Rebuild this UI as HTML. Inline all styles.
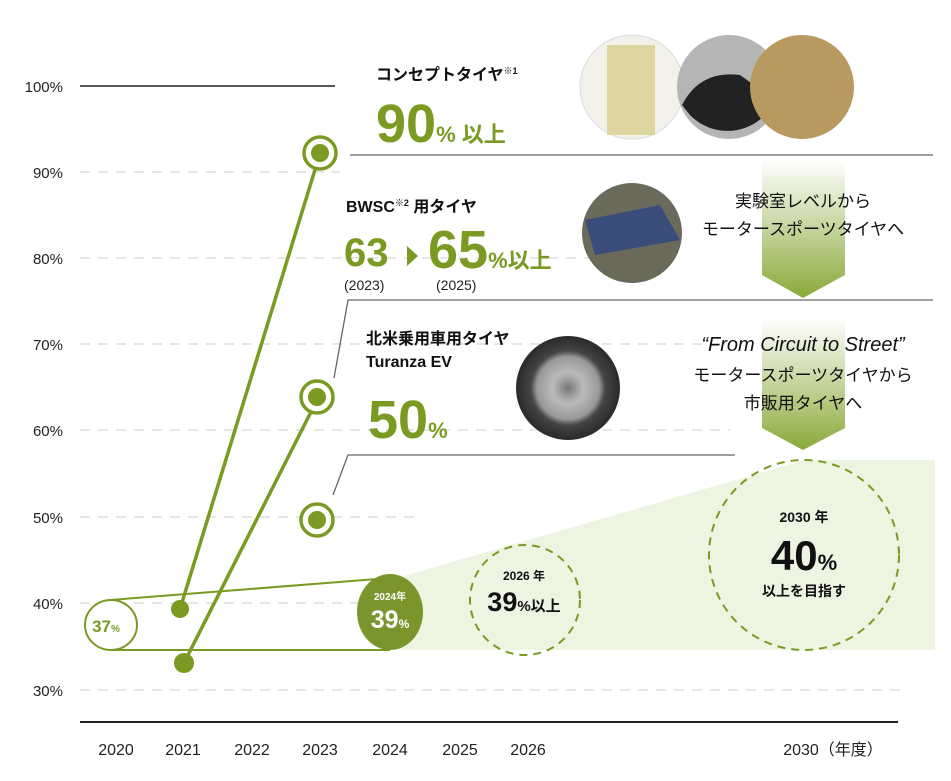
<!DOCTYPE html>
<html><head><meta charset="utf-8"><style>
body{margin:0;background:#fff;}
svg text{font-family:"Liberation Sans","Noto Sans CJK JP",sans-serif;}
</style></head><body>
<svg width="951" height="776" viewBox="0 0 951 776" xmlns="http://www.w3.org/2000/svg">
<defs>
<linearGradient id="ar" x1="0" y1="0" x2="0" y2="1"><stop offset="0" stop-color="#fff"/><stop offset="1" stop-color="#8aaa3a"/></linearGradient>
<radialGradient id="tire" cx="0.5" cy="0.5" r="0.5"><stop offset="0" stop-color="#777"/><stop offset="0.3" stop-color="#bbb"/><stop offset="0.6" stop-color="#999"/><stop offset="0.72" stop-color="#444"/><stop offset="1" stop-color="#2a2a2a"/></radialGradient>
</defs>
<g stroke="#ccc" stroke-dasharray="10,8" stroke-width="1">
<line x1="80" y1="172" x2="340" y2="172"/>
<line x1="80" y1="258" x2="590" y2="258"/>
<line x1="80" y1="344" x2="730" y2="344"/>
<line x1="80" y1="430" x2="730" y2="430"/>
<line x1="80" y1="517" x2="420" y2="517"/>
<line x1="80" y1="603" x2="900" y2="603"/>
<line x1="80" y1="690" x2="900" y2="690"/>
</g>
<line x1="80" y1="86" x2="335" y2="86" stroke="#222" stroke-width="1.5"/>
<line x1="80" y1="722" x2="898" y2="722" stroke="#222" stroke-width="2"/>
<g font-size="15" fill="#222" text-anchor="end">
<text x="63" y="92">100%</text><text x="63" y="178">90%</text><text x="63" y="264">80%</text><text x="63" y="350">70%</text><text x="63" y="436">60%</text><text x="63" y="523">50%</text><text x="63" y="609">40%</text><text x="63" y="696">30%</text>
</g>
<g font-size="16" fill="#222" text-anchor="middle">
<text x="116" y="755">2020</text><text x="183" y="755">2021</text><text x="252" y="755">2022</text><text x="320" y="755">2023</text><text x="390" y="755">2024</text><text x="460" y="755">2025</text><text x="528" y="755">2026</text><text x="833" y="755">2030（年度）</text>
</g>
<polygon points="390,580 805,460 935,460 935,650 390,650" fill="#eef4e2"/>
<g stroke="#666" stroke-width="1.3" fill="none">
<line x1="350" y1="155" x2="933" y2="155"/>
<polyline points="334,378 348,300 933,300"/>
<polyline points="333,495 348,455 735,455"/>
</g>
<polygon points="762,160 845,160 845,275 803,298 762,275" fill="url(#ar)"/>
<polygon points="762,318 845,318 845,428 803,450 762,428" fill="url(#ar)"/>
<g stroke="#7a9a22" stroke-width="2" fill="none">
<line x1="110" y1="600" x2="390" y2="578"/>
<line x1="110" y1="650" x2="390" y2="650"/>
</g>
<ellipse cx="111" cy="625" rx="26" ry="25" fill="#fff" stroke="#7a9a22" stroke-width="2"/>
<text x="106" y="632" font-size="17" font-weight="bold" fill="#7a9a22" text-anchor="middle">37<tspan font-size="10">%</tspan></text>
<ellipse cx="390" cy="612" rx="33" ry="38" fill="#7a952c"/>
<text x="390" y="600" font-size="10" font-weight="bold" fill="#fff" text-anchor="middle">2024年</text>
<text x="390" y="628" font-size="25" font-weight="bold" fill="#fff" text-anchor="middle">39<tspan font-size="12">%</tspan></text>
<circle cx="525" cy="600" r="55" fill="none" stroke="#7a9a22" stroke-width="2" stroke-dasharray="8,6"/>
<text x="524" y="580" font-size="12" font-weight="bold" fill="#111" text-anchor="middle">2026 年</text>
<text x="524" y="611" font-size="27" font-weight="bold" fill="#111" text-anchor="middle">39<tspan font-size="15">%以上</tspan></text>
<circle cx="804" cy="555" r="95" fill="none" stroke="#7a9a22" stroke-width="2" stroke-dasharray="8,6"/>
<text x="804" y="522" font-size="14" font-weight="bold" fill="#111" text-anchor="middle">2030 年</text>
<text x="804" y="570" font-size="42" font-weight="bold" fill="#111" text-anchor="middle">40<tspan font-size="22">%</tspan></text>
<text x="804" y="596" font-size="14" font-weight="bold" fill="#111" text-anchor="middle">以上を目指す</text>
<g stroke="#7a9a22" stroke-width="3.5">
<line x1="180" y1="609" x2="318" y2="160"/>
<line x1="184" y1="663" x2="316" y2="402"/>
</g>
<circle cx="180" cy="609" r="9" fill="#7a9a22"/>
<circle cx="184" cy="663" r="10" fill="#7a9a22"/>
<g fill="#fff" stroke="#7a9a22" stroke-width="3.5">
<circle cx="320" cy="153" r="16"/><circle cx="317" cy="397" r="16"/><circle cx="317" cy="520" r="16"/>
</g>
<g fill="#7a9a22"><circle cx="320" cy="153" r="9"/><circle cx="317" cy="397" r="9"/><circle cx="317" cy="520" r="9"/></g>
<text x="376" y="80" font-size="16" font-weight="bold" fill="#111">コンセプトタイヤ<tspan font-size="9" dy="-6">※1</tspan></text>
<text x="376" y="142" font-size="54" font-weight="bold" fill="#7a9a22">90<tspan font-size="22">% 以上</tspan></text>
<text x="346" y="212" font-size="16" font-weight="bold" fill="#111">BWSC<tspan font-size="9" dy="-6">※2</tspan><tspan dy="6"> 用タイヤ</tspan></text>
<text x="344" y="266" font-size="40" font-weight="bold" fill="#7a9a22">63</text>
<polygon points="407,246 418,256 407,266" fill="#7a9a22"/>
<text x="428" y="268" font-size="54" font-weight="bold" fill="#7a9a22">65<tspan font-size="22">%以上</tspan></text>
<text x="344" y="290" font-size="14" fill="#222">(2023)</text>
<text x="436" y="290" font-size="14" fill="#222">(2025)</text>
<text x="366" y="344" font-size="16" font-weight="bold" fill="#111">北米乗用車用タイヤ</text>
<text x="366" y="367" font-size="16" font-weight="bold" fill="#111">Turanza EV</text>
<text x="368" y="438" font-size="54" font-weight="bold" fill="#7a9a22">50<tspan font-size="22">%</tspan></text>
<g font-size="17" fill="#111" text-anchor="middle">
<text x="803" y="207">実験室レベルから</text>
<text x="803" y="235">モータースポーツタイヤへ</text>
<text x="803" y="351" font-style="italic" font-size="20">“From Circuit to Street”</text>
<text x="803" y="381">モータースポーツタイヤから</text>
<text x="803" y="409">市販用タイヤへ</text>
</g>
<circle cx="632" cy="87" r="52" fill="#f2f2ea" stroke="#ddd"/>
<rect x="607" y="45" width="48" height="90" fill="#ddd6a0"/>
<circle cx="729" cy="87" r="52" fill="#b5b5b5"/>
<path d="M682,105 Q700,70 740,75 L775,100 A52,52 0 0,1 690,115 Z" fill="#222"/>
<circle cx="802" cy="87" r="52" fill="#b89a60"/>
<circle cx="632" cy="233" r="50" fill="#6a6a5a"/>
<path d="M585,220 L660,205 L680,240 L595,255 Z" fill="#3a4d7a"/>
<circle cx="568" cy="388" r="52" fill="url(#tire)"/>
</svg>
</body></html>
